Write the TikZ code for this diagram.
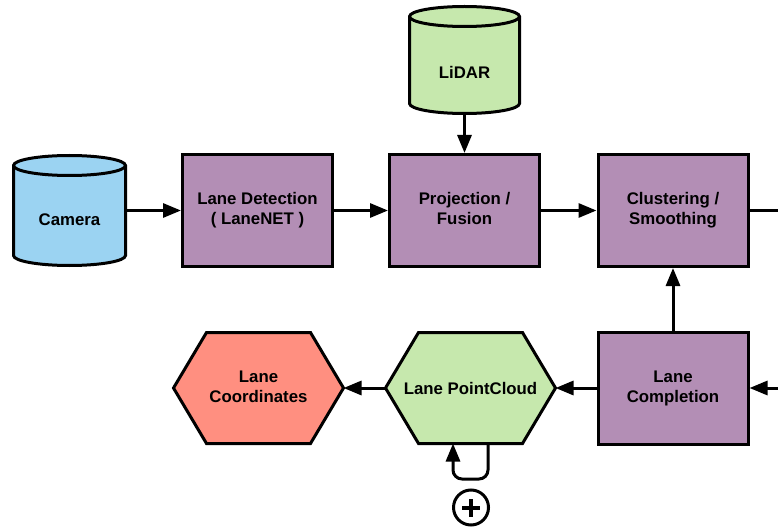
\documentclass[tikz,border=0pt]{standalone}
\usepackage{fontspec}
\setmainfont{Liberation Sans}
\usetikzlibrary{calc,arrows.meta,backgrounds}

\definecolor{stagepurple}{RGB}{179,142,181}
\definecolor{camblue}{RGB}{155,211,242}
\definecolor{softgreen}{RGB}{198,232,173}
\definecolor{salmon}{RGB}{255,143,128}

\tikzset{
  edge/.style={line width=3pt, draw=black},
  flow/.style={edge, -{Triangle[length=18pt,width=14pt]}},
  txt/.style={font=\bfseries\fontsize{16.8}{20}\selectfont, align=center},
  stage/.style={txt, edge, fill=stagepurple, minimum width=150pt, minimum height=112pt, inner sep=0pt},
  hexbox/.style={txt, minimum width=170pt, minimum height=111pt, inner sep=0pt, outer sep=0pt},
  cylbox/.style={minimum width=#1, inner sep=0pt, outer sep=0pt},
}

% cylinder outline around a node: node, fill colour, x radius of the end ellipses
\newcommand\cylinderpath[3]{%
  \draw[edge, fill=#2] ($(#1.north west)+(0,-10)$) -- ($(#1.south west)+(0,10)$)
    arc[start angle=180,end angle=360,x radius=#3,y radius=10]
    -- ($(#1.north east)+(0,-10)$)
    arc[start angle=0,end angle=180,x radius=#3,y radius=10] -- cycle;
  \draw[edge] ($(#1.north west)+(0,-10)$)
    arc[start angle=180,end angle=360,x radius=#3,y radius=10];
}
% hexagon outline around a node: node, fill colour, horizontal slant
\newcommand\hexpath[3]{%
  \draw[edge, fill=#2, line join=miter] (#1.west) -- ($(#1.north west)+(#3,0)$)
    -- ($(#1.north east)+(-#3,0)$) -- (#1.east)
    -- ($(#1.south east)+(-#3,0)$) -- ($(#1.south west)+(#3,0)$) -- cycle;
}

\begin{document}
\begin{tikzpicture}[x=1pt,y=1pt]
\useasboundingbox (0,0) rectangle (778,-529);

% sources
\node[cylbox=112pt, minimum height=110pt] (cam) at (69.5,-210.5) {};
\node[txt] (camtext) at (69.5,-220) {Camera};
\node[cylbox=110pt, minimum height=107pt] (lidar) at (464.5,-60) {};
\node[txt] (lidartext) at (464.5,-72) {LiDAR};

% processing stages
\node[stage] (det)  at (257.5,-210.5) {Lane Detection\strut\\( LaneNET )\strut};
\node[stage] (proj) at (464.5,-210.5) {Projection /\strut\\Fusion\strut};
\node[stage] (clus) at (673,-210.5)   {Clustering /\strut\\Smoothing\strut};
\node[stage] (comp) at (673,-388)     {Lane\strut\\Completion\strut};

% outputs
\node[hexbox] (pc)    at (470.5,-388) {Lane PointCloud};
\node[hexbox] (coord) at (258.5,-388) {Lane\strut\\Coordinates\strut};

\begin{scope}[on background layer]
  \cylinderpath{cam}{camblue}{56}
  \cylinderpath{lidar}{softgreen}{55}
  \hexpath{pc}{softgreen}{33}
  \hexpath{coord}{salmon}{33}
\end{scope}

% off-page ends on the right
\coordinate (outR) at (778,-210.5);
\coordinate (inR)  at (778,-388);

% connectors
\draw[flow] (cam) -- (det);
\draw[flow] (det) -- (proj);
\draw[flow] (lidar) -- (proj);
\draw[flow] (proj) -- (clus);
\draw[edge] (clus) -- (outR);
\draw[flow] (inR) -- (comp);
\draw[flow] (comp) -- (clus);
\draw[flow] (comp) -- (pc);
\draw[flow] (pc) -- (coord);

% self loop with the plus marker
\draw[flow, rounded corners=9pt] ($(pc.south)+(17.5,0)$) -- ++(0,-35.5) -- ++(-35,0) -- ($(pc.south)+(-17.5,0)$);
\node[circle, edge, minimum size=35pt, inner sep=0pt] (plus) at (471,-507.5) {};
\draw[line width=4pt] ($(plus.center)+(-9,0)$) -- ($(plus.center)+(9,0)$);
\draw[line width=4pt] ($(plus.center)+(0,-9)$) -- ($(plus.center)+(0,9)$);
\end{tikzpicture}
\end{document}
